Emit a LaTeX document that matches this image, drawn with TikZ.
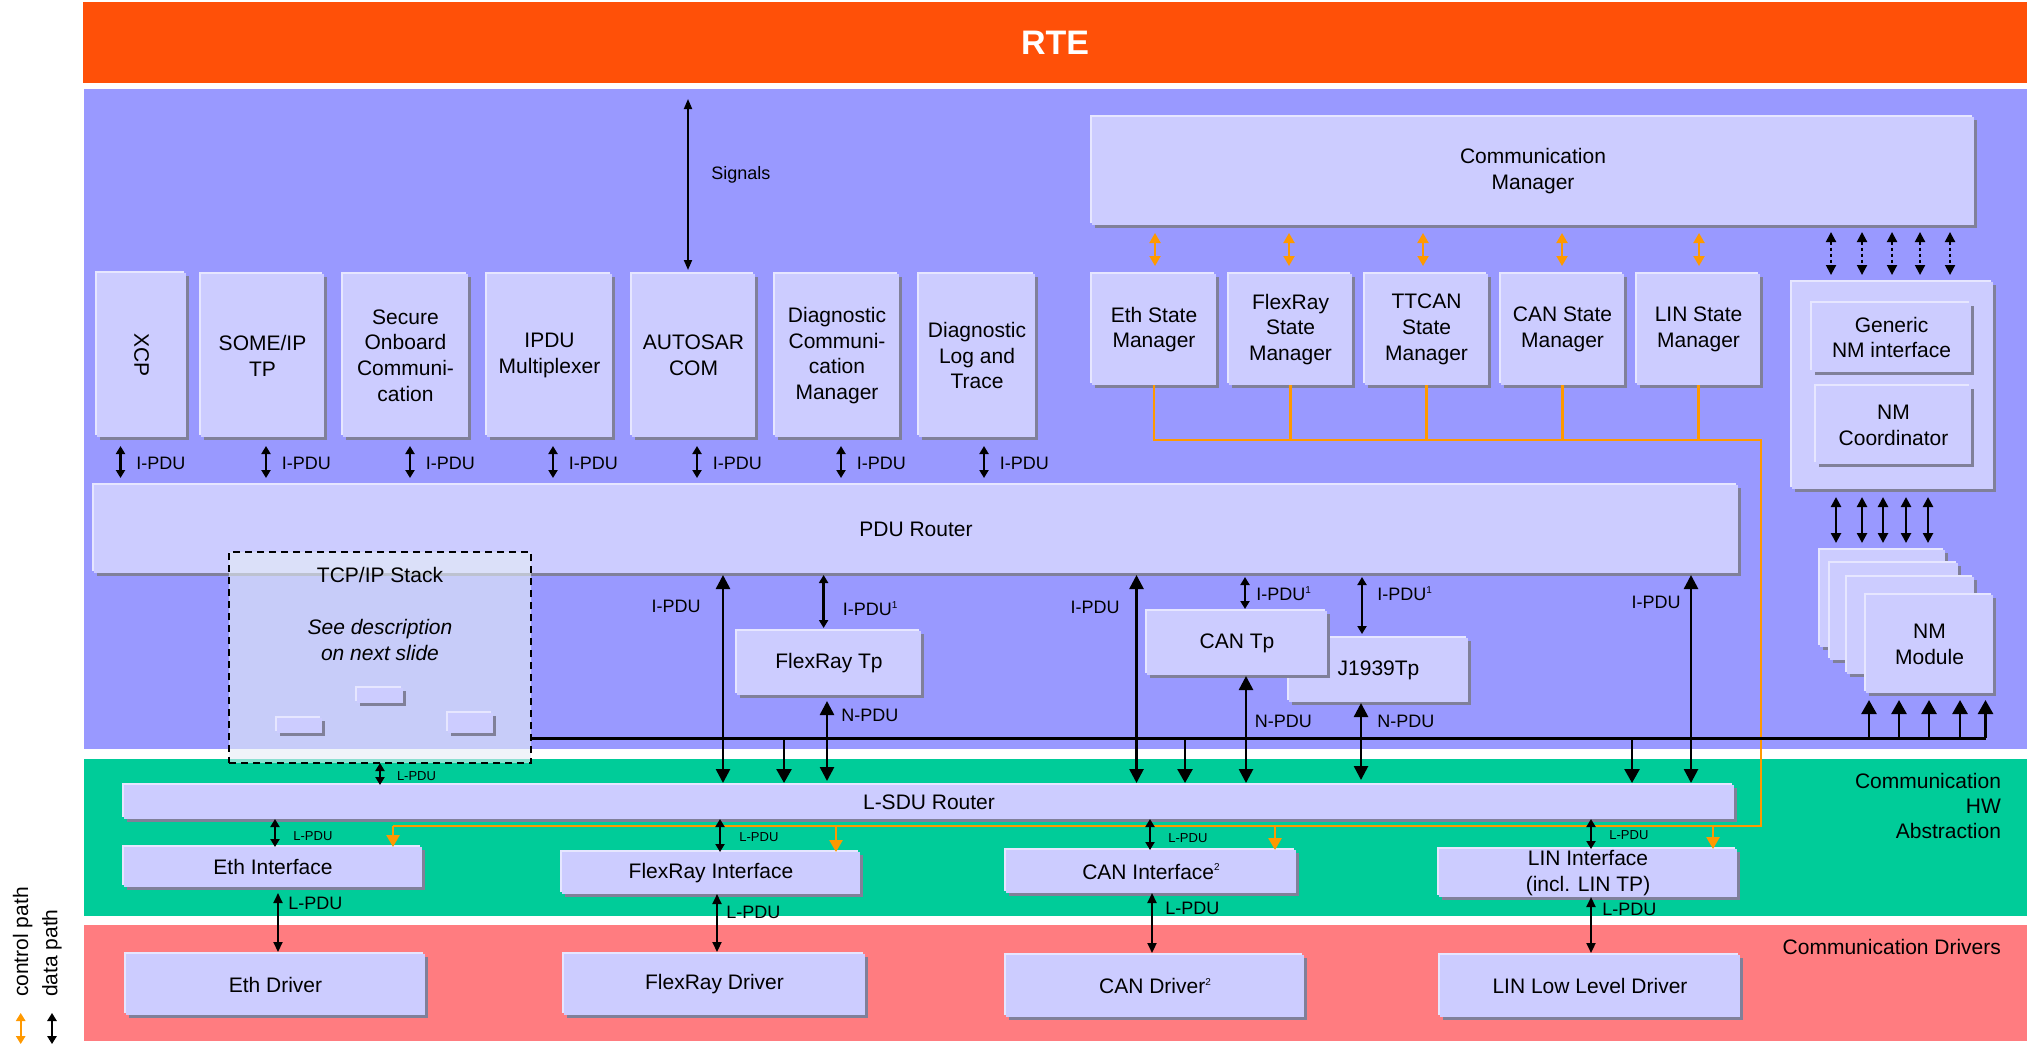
\documentclass[tikz,border=0pt]{standalone}
\usepackage{fontspec}
\setmainfont{Liberation Sans}
\usetikzlibrary{arrows.meta,calc}
\definecolor{rteor}{HTML}{FF5008}
\definecolor{bgpur}{HTML}{9999FF}
\definecolor{bxf}{HTML}{CCCCFF}
\definecolor{bxhi}{HTML}{E6E6FF}
\definecolor{bxsh}{HTML}{808099}
\definecolor{bggrn}{HTML}{00CC99}
\definecolor{bgpnk}{HTML}{FF7C80}
\definecolor{ctrlor}{HTML}{FF9900}
\definecolor{tcpf}{HTML}{E6EEF5}
\newcommand\rectnode[7][]{\node[#1, inner sep=0pt, outer sep=0pt, anchor=north west, minimum width={(#5-#3)*0.5pt}, minimum height={(#6-#4)*0.5pt}] (#2) at (#3,#4) {#7};}
\newcommand\smallsup[1]{\raisebox{0.75ex}{\fontsize{5}{5}\selectfont #1}}
\tikzset{
  boxfont/.style={font=\fontsize{10.5}{12.9}\selectfont},
  box/.style={fill=bxf, align=center, boxfont,
    preaction={fill=bxsh, transform canvas={shift={(1.5pt,-1.5pt)}}},
    preaction={fill=bxhi, transform canvas={shift={(-1pt,1pt)}}}},
  lbl/.style={font=\fontsize{9}{10}\selectfont, inner sep=0pt},
  lbls/.style={font=\fontsize{6.5}{7}\selectfont, inner sep=0pt},
  dsm/.style={line width=1.3pt, arrows={Triangle[width=4.5pt,length=4pt]-Triangle[width=4.5pt,length=4pt]}},
  dbig/.style={line width=1.3pt, arrows={Triangle[width=7pt,length=7pt]-Triangle[width=7pt,length=7pt]}},
  dmed/.style={line width=1pt, arrows={Triangle[width=4.5pt,length=5pt]-Triangle[width=4.5pt,length=5pt]}},
  dsig/.style={line width=0.9pt, arrows={Triangle[width=4pt,length=5pt]-Triangle[width=4pt,length=5pt]}},
  busline/.style={line width=1.5pt},
  busarr/.style={line width=1.3pt, arrows={-Triangle[width=7.5pt,length=7pt]}},
  nmarr/.style={line width=1.2pt, arrows={Triangle[width=5pt,length=5pt]-Triangle[width=5pt,length=5pt]}},
  dotarr/.style={line width=1pt, dash pattern=on 1.5pt off 1.5pt, arrows={Triangle[width=5pt,length=5pt]-Triangle[width=5pt,length=5pt]}},
  ctrl/.style={draw=ctrlor, line width=1.3pt},
  ctrlarr/.style={draw=ctrlor, line width=1pt, arrows={Triangle[width=5.5pt,length=5pt]-Triangle[width=5.5pt,length=5pt]}},
  ctrldown/.style={draw=ctrlor, line width=1.3pt, arrows={-Triangle[width=6.5pt,length=6pt]}},
}
\begin{document}
\begin{tikzpicture}[x=0.5pt,y=-0.5pt]
\useasboundingbox (0,0) rectangle (2032,1045);
\fill[white] (0,0) rectangle (2032,1045);
% layers
\rectnode[fill=rteor, text=white, font=\bfseries\fontsize{17}{20}\selectfont]{rte}{83}{2}{2027}{83}{RTE}
\rectnode[fill=bgpur]{purple}{84}{89}{2027}{749}{}
\rectnode[fill=bggrn]{green}{84}{759}{2027}{916}{}
\rectnode[fill=bgpnk]{pink}{84}{925}{2027}{1041}{}
% upper modules
\rectnode[box]{xcp}{97}{273}{186}{437}{}
\node[boxfont, rotate=-90] (xcptxt) at (xcp.center) {XCP};
\rectnode[box]{someip}{201}{274}{324}{437}{SOME/IP\\TP}
\rectnode[box]{secoc}{343}{274}{468}{437}{Secure\\Onboard\\Communi-\\cation}
\rectnode[box]{ipdum}{487}{274}{612}{437}{IPDU\\Multiplexer}
\rectnode[box]{com}{632}{274}{755}{437}{AUTOSAR\\COM}
\rectnode[box]{dcm}{775}{274}{899}{437}{Diagnostic\\Communi-\\cation\\Manager}
\rectnode[box]{dlt}{919}{274}{1035}{437}{Diagnostic\\Log and\\Trace}
\rectnode[box]{comm}{1092}{117}{1974}{225}{Communication\\Manager}
\rectnode[box]{ethsm}{1092}{274}{1216}{385}{Eth State\\Manager}
\rectnode[box]{frsm}{1229}{274}{1352}{385}{FlexRay\\State\\Manager}
\rectnode[box]{ttcansm}{1365}{274}{1488}{385}{TTCAN\\State\\Manager}
\rectnode[box]{cansm}{1501}{274}{1624}{385}{CAN State\\Manager}
\rectnode[box]{linsm}{1637}{274}{1760}{385}{LIN State\\Manager}
\rectnode[box]{nmout}{1792}{282}{1993}{489}{}
\rectnode[box]{nmif}{1812}{303}{1971}{372}{Generic\\NM interface}
\rectnode[box]{nmcoord}{1816}{386}{1971}{464}{NM\\Coordinator}
\rectnode[box]{pdur}{94}{485}{1738}{573}{PDU Router}
\rectnode[box]{frtp}{737}{631}{921}{695}{FlexRay Tp}
\rectnode[box]{j1939}{1289}{638}{1468}{702}{\raisebox{-3pt}{J1939Tp}}
\rectnode[box]{cantp}{1147}{611}{1327}{675}{CAN Tp}
\rectnode[box]{nm1}{1820}{550}{1945}{647}{}
\rectnode[box]{nm2}{1830}{563}{1958}{660}{}
\rectnode[box]{nm3}{1847}{577}{1974}{674}{}
\rectnode[box]{nm4}{1866}{595}{1993}{693}{NM\\Module}
\rectnode[box]{lsdu}{124}{785}{1734}{819}{L-SDU Router}
\rectnode[box]{ethif}{124}{847}{422}{887}{Eth Interface}
\rectnode[box]{frif}{562}{852}{860}{894}{FlexRay Interface}
\rectnode[box]{canif}{1006}{850}{1296}{893}{CAN Interface\smallsup{2}}
\rectnode[box, font=\fontsize{10.5}{12.7}\selectfont]{linif}{1439}{849}{1737}{897}{LIN Interface\\(incl. LIN TP)}
\rectnode[box]{ethdrv}{126}{954}{425}{1015}{Eth Driver}
\rectnode[box]{frdrv}{564}{954}{865}{1015}{FlexRay Driver}
\rectnode[box]{candrv}{1006}{955}{1304}{1017}{CAN Driver\smallsup{2}}
\rectnode[box]{lindrv}{1440}{955}{1740}{1017}{LIN Low Level Driver}
% TCP/IP stack
\rectnode[fill=tcpf, fill opacity=0.6, draw=black, line width=1.1pt, dash pattern=on 3.5pt off 2.5pt]{tcp}{229}{552}{531}{763}{}
\node[boxfont] (tcptitle) at (380,575) {TCP/IP Stack};
\node[font=\fontsize{10.5}{13}\selectfont\itshape, align=center] (tcpdesc) at (380,640) {See description\\on next slide};
\rectnode[box]{tcpa}{357}{688}{403}{703}{}
\rectnode[box]{tcpb}{277}{718}{322}{733}{}
\rectnode[box]{tcpc}{448}{713}{493}{733}{}
% side texts
\node[anchor=east, align=right, font=\fontsize{10.5}{12.5}\selectfont] (hwa) at (2008,806) {Communication\\HW\\Abstraction};
\node[anchor=east, boxfont] (cdrvtxt) at (2008,947) {Communication Drivers};
% control path (orange)
\coordinate (octr) at (1761,440);
\coordinate (ocbr) at (1761,826);
\coordinate (ocbl) at (393,826);
\draw[ctrl] (ethsm.south) |- (octr) -- (ocbr) -- (ocbl);
\foreach \n in {frsm,ttcansm,cansm,linsm} \draw[ctrl] (\n.south) -- (\n.south |- octr);
\draw[ctrldown] (ocbl) -- (ethif.north -| ocbl);
\draw[ctrldown] (ocbl -| 836,0) -- (frif.north -| 836,0);
\draw[ctrldown] (ocbl -| 1275,0) -- (canif.north -| 1275,0);
\draw[ctrldown] (ocbl -| 1713,0) -- (linif.north -| 1713,0);
\foreach \n/\x in {ethsm/1155,frsm/1289,ttcansm/1423,cansm/1562,linsm/1699}
  \draw[ctrlarr, shorten <=4pt, shorten >=4pt] (comm.south -| \x,0) -- (\n.north -| \x,0);
% signals
\coordinate (sigtop) at (688,99);
\draw[dsig, shorten >=2pt] (sigtop) -- (com.north -| sigtop);
\node[lbl, anchor=west] (siglbl) at (711,175) {Signals};
% module I-PDU arrows
\foreach \n/\x in {xcp/120.5,someip/266,secoc/410,ipdum/553,com/697,dcm/841,dlt/984}{
  \draw[dsm, shorten <=4.5pt, shorten >=3.5pt] (\n.south -| \x,0) -- (pdur.north -| \x,0);
  \node[lbl, anchor=west] (lab\n) at (\x+15.5,463) {I-PDU};
}
% ComM to NM dotted
\foreach \x in {1831,1862,1892,1920,1950}
  \draw[dotarr, shorten <=3.5pt, shorten >=3.5pt] (comm.south -| \x,0) -- (nmout.north -| \x,0);
\foreach \x in {1836,1862,1883,1906,1928}
  \draw[nmarr, shorten <=4pt, shorten >=3.5pt] (nmout.south -| \x,0) -- (nm1.north -| \x,0);
% bus
\coordinate (busR) at (1985.5,738);
\draw[busline] (tcp.east |- busR) -- (busR);
\foreach \x in {1869,1899,1929,1960,1985.5}
  \draw[busarr, shorten >=3.5pt] (busR -| \x,0) -- (nm4.south -| \x,0);
\foreach \x in {784,1185,1632}
  \draw[busarr, shorten >=1pt] (busR -| \x,0) -- (lsdu.north -| \x,0);
% PDU router to L-SDU
\foreach \x in {723,1136.5,1691}
  \draw[dbig, shorten <=1pt, shorten >=1pt] (pdur.south -| \x,0) -- (lsdu.north -| \x,0);
\node[lbl, anchor=east] (lfr) at (701,606) {I-PDU};
\node[lbl, anchor=east] (lcan) at (1120,607) {I-PDU};
\node[lbl, anchor=east] (llin) at (1681,602) {I-PDU};
% TP I-PDU1
\draw[dsm, shorten <=1pt, shorten >=1.5pt] (pdur.south -| 823.6,0) -- (frtp.north -| 823.6,0);
\draw[dsm, shorten <=2pt, shorten >=1pt] (pdur.south -| 1245,0) -- (cantp.north -| 1245,0);
\draw[dsm, shorten <=2pt, shorten >=2pt] (pdur.south -| 1362,0) -- (j1939.north -| 1362,0);
\node[lbl, anchor=west] (lfrtp1) at (842.5,609) {I-PDU\smallsup{1}};
\node[lbl, anchor=west] (lcantp1) at (1256,594) {I-PDU\smallsup{1}};
\node[lbl, anchor=west] (lj1) at (1377,594) {I-PDU\smallsup{1}};
% TP N-PDU
\draw[dbig, shorten <=3pt, shorten >=2pt] (frtp.south -| 827,0) -- (lsdu.north -| 827,0);
\draw[dbig, shorten <=0.5pt, shorten >=1pt] (cantp.south -| 1246,0) -- (lsdu.north -| 1246,0);
\draw[dbig, shorten <=0.5pt, shorten >=2.5pt] (j1939.south -| 1361,0) -- (lsdu.north -| 1361,0);
\node[lbl, anchor=west] (lfrn) at (841,715) {N-PDU};
\node[lbl, anchor=west] (lcann) at (1254.5,721) {N-PDU};
\node[lbl, anchor=west] (ljn) at (1377,721) {N-PDU};
% TCP/IP to L-SDU
\draw[dsm] (tcp.south -| 380,0) -- (lsdu.north -| 380,0);
\node[lbls, anchor=west] (ltcp) at (396.6,776) {L-PDU};
% L-SDU to interfaces
\draw[dsm] (lsdu.south -| 275,0) -- (ethif.north -| 275,0);
\draw[dsm] (lsdu.south -| 720,0) -- (frif.north -| 720,0);
\draw[dsm] (lsdu.south -| 1150,0) -- (canif.north -| 1150,0);
\draw[dsm] (lsdu.south -| 1591,0) -- (linif.north -| 1591,0);
\node[lbls, anchor=west] (le1) at (293,836) {L-PDU};
\node[lbls, anchor=west] (le2) at (739,837) {L-PDU};
\node[lbls, anchor=west] (le3) at (1168,838) {L-PDU};
\node[lbls, anchor=west] (le4) at (1609,835) {L-PDU};
% interfaces to drivers
\draw[dmed, shorten <=3pt, shorten >=1pt] (ethif.south -| 278,0) -- (ethdrv.north -| 278,0);
\draw[dmed, shorten >=1pt] (frif.south -| 717,0) -- (frdrv.north -| 717,0);
\draw[dmed, shorten >=1pt] (canif.south -| 1152,0) -- (candrv.north -| 1152,0);
\draw[dmed, shorten >=1pt] (linif.south -| 1591,0) -- (lindrv.north -| 1591,0);
\node[lbl, anchor=west] (ld1) at (288,903) {L-PDU};
\node[lbl, anchor=west] (ld2) at (726,912) {L-PDU};
\node[lbl, anchor=west] (ld3) at (1165,908) {L-PDU};
\node[lbl, anchor=west] (ld4) at (1602,909) {L-PDU};
% legend
\node[rotate=90, anchor=west, font=\fontsize{10.5}{12}\selectfont] (lgc) at (22.7,1004) {control path};
\node[rotate=90, anchor=west, font=\fontsize{10.5}{12}\selectfont] (lgd) at (52,1004) {data path};
\coordinate (lgoa) at (20.7,1013);
\coordinate (lgob) at (20.7,1044);
\coordinate (lgba) at (52,1013);
\coordinate (lgbb) at (52,1044);
\draw[draw=ctrlor, line width=0.8pt, arrows={Triangle[width=4.7pt,length=4pt]-Triangle[width=4.7pt,length=4pt]}] (lgoa) -- (lgob);
\draw[line width=0.8pt, arrows={Triangle[width=4.7pt,length=4pt]-Triangle[width=4.7pt,length=4pt]}] (lgba) -- (lgbb);
\end{tikzpicture}
\end{document}
